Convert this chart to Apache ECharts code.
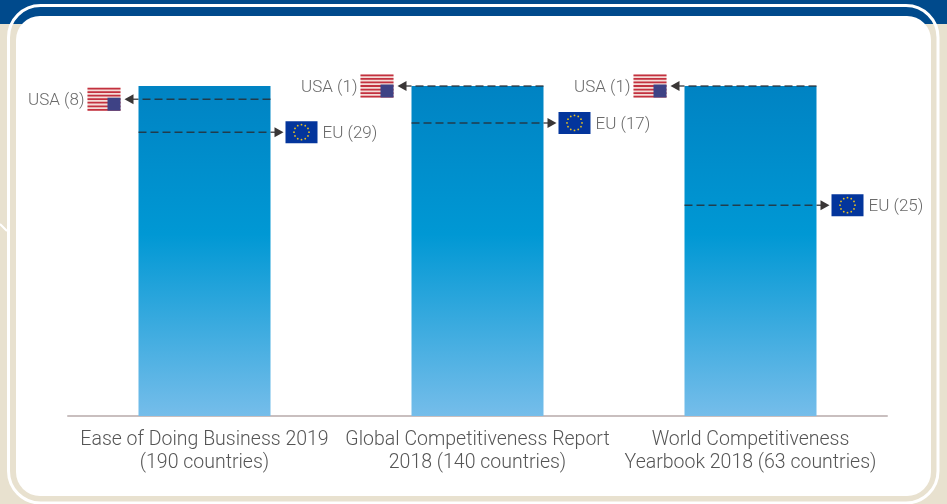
<!DOCTYPE html>
<html>
<head>
<meta charset="utf-8">
<style>
  html, body { margin: 0; padding: 0; background: #fff; }
  #chart { width: 947px; height: 504px; }
</style>
<script src="https://cdn.jsdelivr.net/npm/echarts@6/dist/echarts.min.js"></script>
</head>
<body>
<div id="chart"></div>
<script>
const categories = [
  'Ease of Doing Business 2019\n(190 countries)',
  'Global Competitiveness Report\n2018 (140 countries)',
  'World Competitiveness\nYearbook 2018 (63 countries)'
]
const barValues = [100, 100, 100]
// rank shown in the label, and how far up the bar its dashed line sits (% of bar)
const usaRanks = [8, 1, 1]
const usaLevels = [96, 100, 100]
const euRanks = [29, 17, 25]
const euLevels = [86, 88.8, 63.9]

const BAR_WIDTH = 132
const FONT = 'Roboto, sans-serif'
const STAR_COUNT = 12

const arrowRow = (x, y, fromX, tipX) => {
  const dir = tipX > fromX ? 1 : -1
  return [
    {
      type: 'line',
      shape: { x1: fromX, y1: y, x2: tipX - dir * 7, y2: y },
      style: { stroke: 'rgba(40,40,45,0.8)', lineWidth: 1.5, lineDash: [8, 4] }
    },
    {
      type: 'polygon',
      shape: { points: [[tipX, y], [tipX - dir * 9, y - 5], [tipX - dir * 9, y + 5]] },
      style: { fill: '#3a3636' }
    }
  ]
}

const usFlag = (right, cy) => {
  const w = 33, h = 23, left = right - w, top = cy - h / 2
  const parts = [{ type: 'rect', shape: { x: left, y: top, width: w, height: h }, style: { fill: '#f4dcd8' } }]
  for (let i = 0; i < 7; i++) {
    parts.push({
      type: 'rect',
      shape: { x: left, y: top + i * (h / 6.5), width: w, height: h / 13 },
      style: { fill: '#c3313f' }
    })
  }
  parts.push({ type: 'rect', shape: { x: right - 13, y: top + 10, width: 13, height: 13 }, style: { fill: '#3e4285' } })
  return parts
}

const euFlag = (left, cy) => {
  const w = 32, h = 22
  const parts = [{ type: 'rect', shape: { x: left, y: cy - h / 2, width: w, height: h }, style: { fill: '#03359c' } }]
  for (let i = 0; i < STAR_COUNT; i++) {
    const a = i / STAR_COUNT * Math.PI * 2
    parts.push({
      type: 'circle',
      shape: { cx: left + w / 2 + Math.cos(a) * 7.5, cy: cy + Math.sin(a) * 7.5, r: 0.9 },
      style: { fill: '#e8c020' }
    })
  }
  return parts
}

const labelText = (x, y, text, align) => ({
  type: 'text',
  style: {
    x, y, text, align, verticalAlign: 'middle',
    fill: '#6a6a6a', fontFamily: FONT, fontWeight: 300, fontSize: 17
  }
})

const renderUsa = (params, api) => {
  const [cx, y] = api.coord([api.value(0), api.value(1)])
  const left = cx - BAR_WIDTH / 2, right = cx + BAR_WIDTH / 2
  return {
    type: 'group',
    children: [
      ...arrowRow(cx, y, right, left - 14),
      ...usFlag(left - 18, y),
      labelText(left - 54, y + 1.5, `USA (${api.value(2)})`, 'right')
    ]
  }
}

const renderEu = (params, api) => {
  const [cx, y] = api.coord([api.value(0), api.value(1)])
  const left = cx - BAR_WIDTH / 2, right = cx + BAR_WIDTH / 2
  return {
    type: 'group',
    children: [
      ...arrowRow(cx, y, left, right + 13),
      ...euFlag(right + 15, y),
      labelText(right + 52, y + 1.5, `EU (${api.value(2)})`, 'left')
    ]
  }
}

const chart = echarts.init(document.getElementById('chart'))

chart.setOption({
  animation: false,
  graphic: [
    { type: 'rect', z: -10, shape: { x: 0, y: 0, width: 947, height: 504 }, style: { fill: '#e8e1cf' } },
    { type: 'rect', z: -9, shape: { x: 0, y: 0, width: 947, height: 24 }, style: { fill: '#004a8c' } },
    { type: 'line', z: -8, shape: { x1: 0, y1: 224, x2: 7, y2: 231 }, style: { stroke: '#fff', lineWidth: 2 } },
    { type: 'rect', z: -8, shape: { x: 8.5, y: 5.5, width: 929.5, height: 497.5, r: 32 }, style: { fill: 'none', stroke: '#fff', lineWidth: 3 } },
    { type: 'rect', z: -7, shape: { x: 16, y: 16, width: 915, height: 480, r: 24 }, style: { fill: '#fff' } }
  ],
  grid: { left: 68, right: 60, top: 86, height: 330 },
  xAxis: {
    type: 'category',
    data: categories,
    axisTick: { show: false },
    axisLine: { lineStyle: { color: '#c9bfbf', width: 2 } },
    axisLabel: {
      interval: 0,
      margin: 13,
      color: '#555',
      fontFamily: FONT,
      fontWeight: 300,
      fontSize: 19.5,
      lineHeight: 23
    }
  },
  yAxis: { type: 'value', min: 0, max: 100, show: false },
  series: [
    {
      type: 'bar',
      data: barValues,
      barWidth: BAR_WIDTH,
      itemStyle: {
        color: new echarts.graphic.LinearGradient(0, 0, 0, 1, [
          { offset: 0, color: '#0083c3' },
          { offset: 0.45, color: '#0098d4' },
          { offset: 1, color: '#75bdea' }
        ])
      }
    },
    {
      type: 'custom',
      renderItem: renderUsa,
      clip: false,
      encode: { x: 0, y: 1 },
      data: usaLevels.map((v, i) => [i, v, usaRanks[i]]),
      z: 5
    },
    {
      type: 'custom',
      renderItem: renderEu,
      clip: false,
      encode: { x: 0, y: 1 },
      data: euLevels.map((v, i) => [i, v, euRanks[i]]),
      z: 5
    }
  ]
})
</script>
</body>
</html>
